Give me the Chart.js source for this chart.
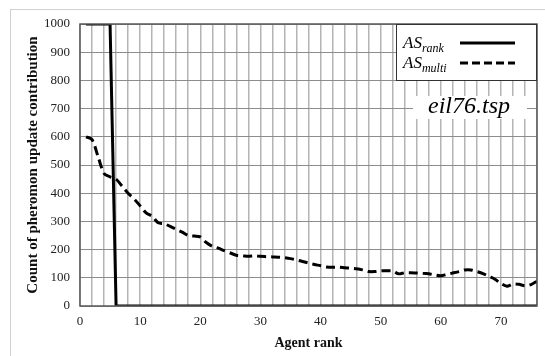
<!DOCTYPE html>
<html>
<head>
<meta charset="utf-8">
<script src="https://cdn.jsdelivr.net/npm/chart.js@4/dist/chart.umd.min.js"></script>
<style>
  html, body { margin: 0; padding: 0; background: #fff; }
  #wrap { position: relative; width: 545px; height: 356px; }
  #frame { position: absolute; left: 10px; top: 9px; width: 560px; height: 400px;
           border-left: 1px solid #d0d0d0; border-top: 1px solid #d0d0d0; }
  canvas { position: absolute; left: 0; top: 0; }
</style>
</head>
<body>
<div id="wrap">
  <div id="frame"></div>
  <canvas id="chart" width="545" height="356"></canvas>
</div>
<script>
// agent rank 1..76
const ranks = [
  1, 2, 3, 4, 5, 6, 7, 8, 9, 10, 11, 12, 13, 14, 15, 16, 17, 18, 19, 20,
  21, 22, 23, 24, 25, 26, 27, 28, 29, 30, 31, 32, 33, 34, 35, 36, 37, 38, 39, 40,
  41, 42, 43, 44, 45, 46, 47, 48, 49, 50, 51, 52, 53, 54, 55, 56, 57, 58, 59, 60,
  61, 62, 63, 64, 65, 66, 67, 68, 69, 70, 71, 72, 73, 74, 75, 76
];

// AS_rank: only the first 5 agents contribute
const asRank = [
  1000, 1000, 1000, 1000, 1000, 0, 0, 0, 0, 0, 0, 0, 0, 0, 0, 0, 0, 0, 0, 0,
  0, 0, 0, 0, 0, 0, 0, 0, 0, 0, 0, 0, 0, 0, 0, 0, 0, 0, 0, 0,
  0, 0, 0, 0, 0, 0, 0, 0, 0, 0, 0, 0, 0, 0, 0, 0, 0, 0, 0, 0,
  0, 0, 0, 0, 0, 0, 0, 0, 0, 0, 0, 0, 0, 0, 0, 0
];

// AS_multi
const asMulti = [
  600, 590, 530, 470, 458, 450, 425, 400, 380, 355, 330, 318, 295, 292, 282, 272, 262, 250, 248, 245,
  225, 212, 205, 196, 188, 180, 178, 176, 178, 176, 175, 174, 173, 171, 168, 163, 158, 152, 147, 143,
  138, 137, 138, 136, 134, 132, 128, 122, 122, 125, 125, 124, 114, 118, 118, 117, 116, 114, 110, 107,
  112, 117, 122, 128, 128, 122, 115, 105, 95, 80, 70, 78, 77, 72, 76, 88
];

const serif = "'Liberation Serif', 'Times New Roman', serif";

// border of plot area + legend box + file name label
const overlay = {
  id: "overlay",
  afterDatasetsDraw(chart) {
    const { ctx, chartArea: a } = chart;
    ctx.save();
    ctx.strokeStyle = "#5a5a5a";
    ctx.lineWidth = 1.5;
    ctx.strokeRect(a.left, a.top, a.right - a.left, a.bottom - a.top);

    // legend box
    const lx = 396, ly = a.top, lw = a.right - lx, lh = 57;
    ctx.fillStyle = "#fff";
    ctx.fillRect(lx, ly, lw, lh);
    ctx.strokeStyle = "#333";
    ctx.lineWidth = 1;
    ctx.strokeRect(lx + 0.5, ly + 0.5, lw - 1, lh - 1);

    const rows = [["rank", []], ["multi", [8, 4]]];
    rows.forEach(([sub, dash], i) => {
      const y = ly + 19 + i * 20;
      ctx.fillStyle = "#000";
      ctx.textBaseline = "alphabetic";
      ctx.font = "italic 17px " + serif;
      ctx.fillText("AS", 403, y + 5);
      const w = ctx.measureText("AS").width;
      ctx.font = "italic 12px " + serif;
      ctx.fillText(sub, 403 + w, y + 9);
      ctx.beginPath();
      ctx.setLineDash(dash);
      ctx.strokeStyle = "#000";
      ctx.lineWidth = 3;
      ctx.moveTo(460, y);
      ctx.lineTo(515, y);
      ctx.stroke();
      ctx.setLineDash([]);
    });

    // file name
    ctx.fillStyle = "#fff";
    ctx.fillRect(413, 96, 114, 23);
    ctx.fillStyle = "#000";
    ctx.font = "italic 24px " + serif;
    ctx.textAlign = "center";
    ctx.textBaseline = "middle";
    ctx.fillText("eil76.tsp", 469, 107);
    ctx.restore();
  }
};

new Chart(document.getElementById("chart"), {
  type: "line",
  data: {
    labels: ranks,
    datasets: [
      {
        label: "AS_rank",
        data: ranks.map((r, i) => ({ x: r, y: asRank[i] })),
        borderColor: "#000",
        borderWidth: 3,
        pointRadius: 0,
        tension: 0,
      },
      {
        label: "AS_multi",
        data: ranks.map((r, i) => ({ x: r, y: asMulti[i] })),
        borderColor: "#000",
        borderWidth: 3,
        borderDash: [9, 5],
        pointRadius: 0,
        tension: 0.3,
      },
    ],
  },
  options: {
    responsive: false,
    animation: false,
    layout: { padding: { left: 24, top: 24, right: 8, bottom: 0 } },
    plugins: {
      legend: { display: false },
      tooltip: { enabled: false },
    },
    scales: {
      x: {
        type: "linear",
        min: 0,
        max: 76,
        grid: { color: "#b4b4b4", lineWidth: 1.5, drawTicks: false },
        border: { display: false },
        ticks: {
          stepSize: 2,
          autoSkip: false,
          maxRotation: 0,
          padding: 8,
          color: "#222",
          font: { family: serif, size: 13 },
          callback: (v) => (v % 10 === 0 && v <= 70 ? String(v) : ""),
        },
        title: {
          display: true,
          text: "Agent rank",
          color: "#111",
          padding: { top: 2 },
          font: { family: serif, size: 14, weight: "bold" },
        },
        afterFit: (s) => { s.height = 50; },
      },
      y: {
        min: 0,
        max: 1000,
        grid: { color: "#8c8c8c", lineWidth: 1, drawTicks: false },
        border: { display: false },
        ticks: {
          stepSize: 100,
          padding: 10,
          color: "#222",
          font: { family: serif, size: 13 },
          callback: (v) => String(v),
        },
        title: {
          display: true,
          text: "Count of pheromon update contribution",
          color: "#111",
          padding: 0,
          font: { family: serif, size: 15, weight: "bold" },
        },
        afterFit: (s) => { s.width = 56; },
      },
    },
  },
  plugins: [overlay],
});
</script>
</body>
</html>
